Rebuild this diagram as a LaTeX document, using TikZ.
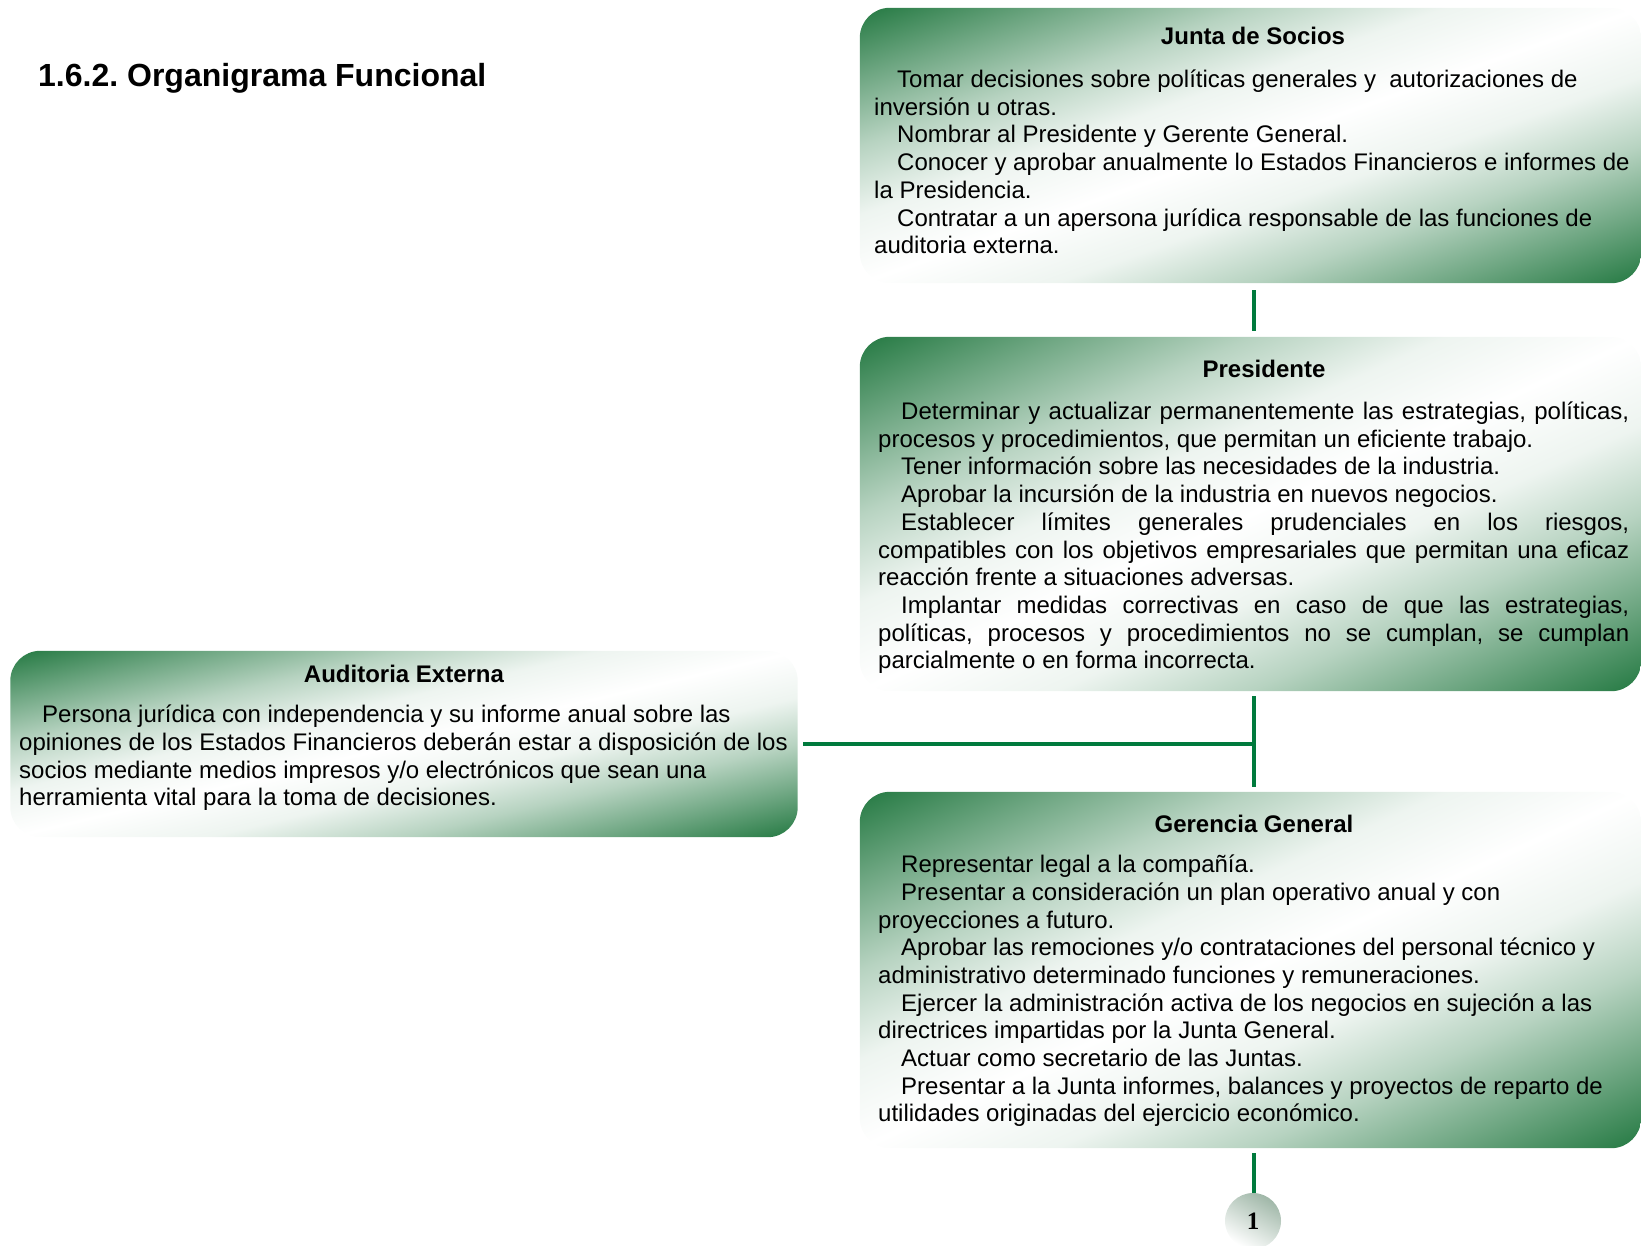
\documentclass[tikz,border=0pt]{standalone}
\usepackage{fontspec}
\setmainfont{Liberation Sans}
\newfontfamily\numfont{Liberation Serif}
\frenchspacing

\definecolor{boxgreen}{RGB}{36,121,66}
\definecolor{linegreen}{RGB}{0,122,61}
\colorlet{gmid}{boxgreen!66!white}
\colorlet{glight}{boxgreen!33!white}
\colorlet{gpale}{boxgreen!8!white}

% green at both ends, white in the middle; 25bp..75bp spans the shaded path
\pgfdeclarehorizontalshading{greenwhite}{100bp}{%
  color(0bp)=(boxgreen); color(25bp)=(boxgreen);
  color(31.25bp)=(gmid); color(37.5bp)=(glight); color(43.75bp)=(gpale);
  color(50bp)=(white);
  color(56.25bp)=(gpale); color(62.5bp)=(glight); color(68.75bp)=(gmid);
  color(75bp)=(boxgreen); color(100bp)=(boxgreen)}

\tikzset{
  orgbox/.style={rectangle, inner sep=0pt, draw=none},
  connector/.style={draw=linegreen, line width=4pt},
  boxtitle/.style={font=\fontsize{24}{27.7}\selectfont\bfseries,
    anchor=base, inner sep=0pt},
  boxbody/.style={font=\fontsize{24}{27.7}\selectfont,
    anchor=north west, align=left, inner sep=0pt},
}
\newcommand{\ind}{\hspace*{23pt}}

% fill a box node with a diagonal green-white-green gradient whose white
% band runs from the lower left to the upper right corner
\newcommand{\shadebox}[3]{%
  \begin{scope}
    \clip[rounded corners=30pt] (#1.north west) rectangle (#1.south east);
    \begin{pgfinterruptboundingbox}
    \begin{scope}[transform canvas={shift={(#1.center)},
                   xscale=#2/200, yscale=#3/200, rotate=-45}]
      \shade[shading=greenwhite] (-141.43,-141.43) rectangle (141.43,141.43);
    \end{scope}
    \end{pgfinterruptboundingbox}
  \end{scope}}

\begin{document}
\begin{tikzpicture}[x=1pt,y=-1pt]
\useasboundingbox (0,0) rectangle (1641,1245);

% heading
\node[anchor=base west, inner sep=0pt,
      font=\fontsize{32}{38}\selectfont\bfseries] (heading) at (38,86)
  {1.6.2. Organigrama Funcional};

% boxes
\node[orgbox, minimum width=781pt, minimum height=275pt] (junta) at (1250.5,145.5) {};
\node[orgbox, minimum width=781pt, minimum height=354pt] (pres) at (1250.5,514) {};
\node[orgbox, minimum width=781pt, minimum height=356pt] (ger) at (1250.5,970) {};
\node[orgbox, minimum width=787pt, minimum height=186pt] (audit) at (404,744) {};
\shadebox{junta}{781}{275}
\shadebox{pres}{781}{354}
\shadebox{ger}{781}{356}
\shadebox{audit}{787}{186}

% Junta de Socios
\node[boxtitle] (juntaT) at (1253,44) {Junta de Socios};
\node[boxbody] (juntaB) at (874,68) {%
\strut\ind Tomar decisiones sobre políticas generales y \ autorizaciones de\\
inversión u otras.\\
\ind Nombrar al Presidente y Gerente General.\\
\ind Conocer y aprobar anualmente lo Estados Financieros e informes de\\
la Presidencia.\\
\ind Contratar a un apersona jurídica responsable de las funciones de\\
auditoria externa.};

% Presidente
\node[boxtitle] (presT) at (1264,377.5) {Presidente};
\node[boxbody] (presB) at (878,400) {%
\strut\makebox[751pt][s]{\ind Determinar y actualizar permanentemente las estrategias, políticas,}\\
procesos y procedimientos, que permitan un eficiente trabajo.\\
\ind Tener información sobre las necesidades de la industria.\\
\ind Aprobar la incursión de la industria en nuevos negocios.\\
\makebox[751pt][s]{\ind Establecer límites generales prudenciales en los riesgos,}\\
\makebox[751pt][s]{compatibles con los objetivos empresariales que permitan una eficaz}\\
reacción frente a situaciones adversas.\\
\makebox[751pt][s]{\ind Implantar medidas correctivas en caso de que las estrategias,}\\
\makebox[751pt][s]{políticas, procesos y procedimientos no se cumplan, se cumplan}\\
parcialmente o en forma incorrecta.};

% Gerencia General
\node[boxtitle] (gerT) at (1254,832.5) {Gerencia General};
\node[boxbody] (gerB) at (878,853) {%
\strut\ind Representar legal a la compañía.\\
\ind Presentar a consideración un plan operativo anual y con\\
proyecciones a futuro.\\
\ind Aprobar las remociones y/o contrataciones del personal técnico y\\
administrativo determinado funciones y remuneraciones.\\
\ind Ejercer la administración activa de los negocios en sujeción a las\\
directrices impartidas por la Junta General.\\
\ind Actuar como secretario de las Juntas.\\
\ind Presentar a la Junta informes, balances y proyectos de reparto de\\
utilidades originadas del ejercicio económico.};

% Auditoria Externa
\node[boxtitle] (auditT) at (404,682.5) {Auditoria Externa};
\node[boxbody] (auditB) at (19,703) {%
\strut\ind Persona jurídica con independencia y su informe anual sobre las\\
opiniones de los Estados Financieros deberán estar a disposición de los\\
socios mediante medios impresos y/o electrónicos que sean una\\
herramienta vital para la toma de decisiones.};

% page marker
\node[circle, minimum size=56pt, inner sep=0pt, shade,
      left color=boxgreen!50!gray!55, right color=white, shading angle=-30,
      font=\numfont\bfseries\fontsize{25}{25}\selectfont] (page) at (1253,1221) {1};

% connectors
\coordinate (spine) at (1254,0);
\draw[connector, shorten <=7pt, shorten >=6pt] (junta.south -| spine) -- (pres.north -| spine);
\draw[connector, shorten <=5pt, shorten >=5pt] (pres.south -| spine) -- (ger.north -| spine);
\draw[connector, shorten <=5.5pt] (audit.east) -- (audit.east -| spine);
\draw[connector, shorten <=5pt] (ger.south -| spine) -- (page.north -| spine);
\end{tikzpicture}
\end{document}
